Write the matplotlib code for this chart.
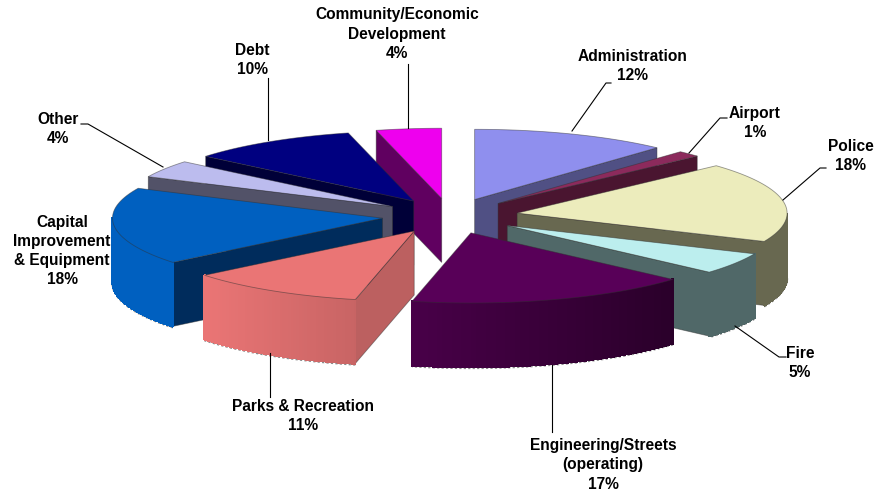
import numpy as np
import matplotlib
matplotlib.use('Agg')
from matplotlib import pyplot as plt
from matplotlib.patches import Polygon
from matplotlib.colors import to_rgb

plt.rcParams['font.family'] = ['Liberation Sans', 'DejaVu Sans']

# values, clockwise from 12 o'clock (labels show them rounded)
categories = ['Administration', 'Airport', 'Police', 'Fire', 'Engineering/Streets\n(operating)',
              'Parks & Recreation', 'Capital\nImprovement\n& Equipment', 'Other', 'Debt',
              'Community/Economic\nDevelopment']
values = [11.8, 1.4, 18.4, 4.95, 16.95, 10.65, 17.85, 4.0, 10.1, 3.9]

top_colors = ['#8f8fee', '#8c2a5c', '#ececbc', '#bceeee', '#580058',
              '#ea7575', '#0060c0', '#bcbcee', '#000080', '#ee00ee']
wall_colors = ['#505084', '#4a1530', '#686850', '#506868', '#480048',
               '#bc6060', '#002c5c', '#525268', '#000038', '#600060']
rim_left = ['#505084', '#4a1530', '#686850', '#506868', '#480048',
            '#ea7575', '#0060c0', '#525268', '#000038', '#600060']
rim_right = ['#505084', '#4a1530', '#686850', '#506868', '#2a002a',
             '#c86464', '#0060c0', '#525268', '#000038', '#600060']

# label block centres and leader lines, in picture pixels
label_pos = [(633, 66), (755, 123), (851, 156), (800, 363), (603, 465),
             (303, 416), (62, 251), (58, 129), (252, 60), (397, 34)]
leaders = [[(572, 131), (606, 83), (611, 83)],
           [(689, 153), (720, 118), (727, 118)],
           [(783, 200), (820, 168), (826, 168)],
           [(735, 326), (779, 357), (786, 357)],
           [(552, 365), (552, 432)],
           [(270, 353), (270, 397)],
           None,
           [(163, 167), (88, 124), (81, 124)],
           [(268, 140), (268, 78)],
           [(408, 128), (408, 64)]]

cx, cy = 450, 216
radius = 270
squash = 0.26
depth = 64
explode = 68

fig = plt.figure(figsize=(8.77, 4.93), dpi=100)
ax = fig.add_axes([0, 0, 1, 1])
ax.set_xlim(0, 877)
ax.set_ylim(493, 0)
ax.axis('off')

edges = np.cumsum([0] + values) / sum(values) * 2 * np.pi
order = sorted(range(len(values)), key=lambda i: -np.cos((edges[i] + edges[i + 1]) / 2))


def draw_slice(i, z):
    a, b = edges[i], edges[i + 1]
    mid = (a + b) / 2
    ox = explode * np.sin(mid)
    oy = -explode * squash * np.cos(mid)
    angles = np.linspace(a, b, 60)
    rim_x = cx + ox + radius * np.sin(angles)
    rim_y = cy + oy - radius * squash * np.cos(angles)
    apex = (cx + ox, cy + oy)

    # grey speckle under the front of the slice
    front = np.cos(angles) < 0
    if front.any():
        ax.plot(rim_x[front], rim_y[front] + depth + 1, color='#8a8a8a', lw=1.6,
                ls=(0, (1, 1)), zorder=z)

    line = '#30303080'
    # cut faces that look at the viewer
    for ang, visible in [(a, np.sin(a) < -1e-6), (b, np.sin(b) > 1e-6)]:
        if visible:
            px = cx + ox + radius * np.sin(ang)
            py = cy + oy - radius * squash * np.cos(ang)
            ax.add_patch(Polygon([apex, (px, py), (px, py + depth), (apex[0], apex[1] + depth)],
                                 closed=True, fc=wall_colors[i], ec=line, lw=0.6, zorder=z + 1))

    # outer rim, strip by strip for the shading
    c0, c1 = np.array(to_rgb(rim_left[i])), np.array(to_rgb(rim_right[i]))
    xmin, xmax = rim_x.min(), rim_x.max()
    for k in range(len(angles) - 1):
        if np.cos((angles[k] + angles[k + 1]) / 2) >= 0:
            continue
        t = ((rim_x[k] + rim_x[k + 1]) / 2 - xmin) / max(xmax - xmin, 1)
        col = c0 + (c1 - c0) * t
        ax.add_patch(Polygon([(rim_x[k], rim_y[k]), (rim_x[k + 1], rim_y[k + 1]),
                              (rim_x[k + 1], rim_y[k + 1] + depth), (rim_x[k], rim_y[k] + depth)],
                             closed=True, fc=col, ec=col, lw=1.0, antialiased=False, zorder=z + 1))

    # top
    pts = [apex] + list(zip(rim_x, rim_y))
    ax.add_patch(Polygon(pts, closed=True, fc=top_colors[i], ec=line, lw=0.6, zorder=z + 2))


for n, i in enumerate(order):
    draw_slice(i, 2 + n * 3)

for i, name in enumerate(categories):
    if leaders[i] is not None:
        xs, ys = zip(*leaders[i])
        ax.plot(xs, ys, color='black', lw=0.8, zorder=50)
    ax.text(label_pos[i][0], label_pos[i][1], '%s\n%.0f%%' % (name, values[i]), ha='center', va='center',
            fontsize=11.2, fontweight='bold', linespacing=1.34, color='black', zorder=60)

fig.savefig('out.png', dpi=100)
